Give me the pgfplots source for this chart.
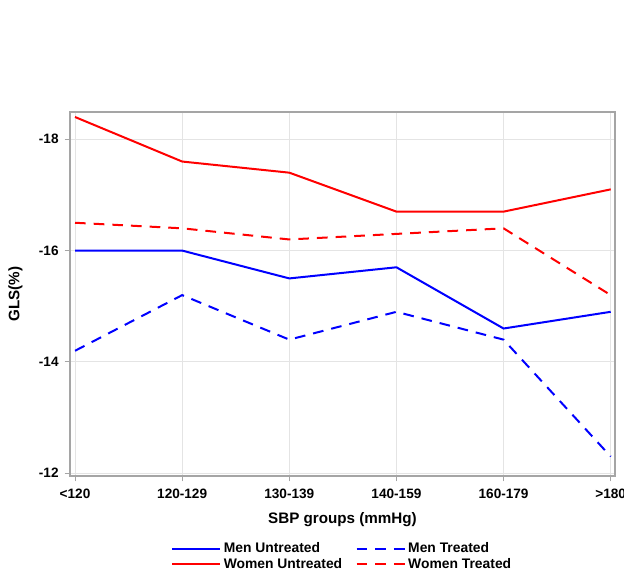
\documentclass[border=0pt]{standalone}
\usepackage{pgfplots}
\pgfplotsset{compat=1.18}
\usepackage{fontspec}
\setmainfont{Liberation Sans}

\definecolor{frameGray}{RGB}{165,165,165}
\definecolor{gridGray}{RGB}{228,228,228}

\begin{document}
\begin{tikzpicture}
\path[use as bounding box] (0,0) rectangle (468pt,429pt);
\begin{axis}[
  at={(52.5pt,72pt)}, anchor=south west,
  scale only axis, width=408.75pt, height=273pt,
  xmin=-0.047, xmax=5.04,
  ymin=-18.49, ymax=-11.95, y dir=reverse,
  xtick={0,1,2,3,4,5},
  xticklabels={<120,120-129,130-139,140-159,160-179,>180},
  ytick={-18,-16,-14,-12},
  yticklabels={-18,-16,-14,-12},
  tick align=outside, tick pos=left,
  major tick length=4pt,
  axis line style={frameGray, line width=0.9pt},
  every tick/.style={frameGray, line width=0.8pt},
  grid=major,
  major grid style={gridGray, line width=0.7pt},
  ticklabel style={font=\fontsize{10.2}{12}\selectfont\bfseries},
  xticklabel style={yshift=-2pt},
  yticklabel style={xshift=-1pt},
  xlabel={SBP groups (mmHg)},
  ylabel={GLS(\%)},
  label style={font=\fontsize{11.4}{13}\selectfont\bfseries},
  xlabel style={at={(axis description cs:0.5,-0.121)}, anchor=center},
  ylabel style={at={(axis description cs:-0.1,0.5)}, anchor=center},
  legend columns=2,
  legend cell align=left,
  legend style={
    at={(0.5,-0.168)}, anchor=north, draw=none, fill=none,
    font=\fontsize{10.4}{12}\selectfont\bfseries,
    /tikz/every even column/.append style={column sep=8pt},
    row sep=-1.5pt,
  },
  legend image code/.code={\draw[#1] (0pt,0pt) -- (36pt,0pt);},
  every axis plot/.append style={line width=1.5pt},
]
% Men, untreated
\addplot[blue, solid] coordinates {(0,-16.0) (1,-16.0) (2,-15.5) (3,-15.7) (4,-14.6) (5,-14.9)};
\addlegendentry{Men Untreated}
% Men, treated
\addplot[blue, dash pattern=on 8pt off 6pt] coordinates {(0,-14.2) (1,-15.2) (2,-14.4) (3,-14.9) (4,-14.4) (5,-12.3)};
\addlegendentry{Men Treated}
% Women, untreated
\addplot[red, solid] coordinates {(0,-18.4) (1,-17.6) (2,-17.4) (3,-16.7) (4,-16.7) (5,-17.1)};
\addlegendentry{Women Untreated}
% Women, treated
\addplot[red, dash pattern=on 8pt off 6pt] coordinates {(0,-16.5) (1,-16.4) (2,-16.2) (3,-16.3) (4,-16.4) (5,-15.2)};
\addlegendentry{Women Treated}
\end{axis}
\end{tikzpicture}
\end{document}
